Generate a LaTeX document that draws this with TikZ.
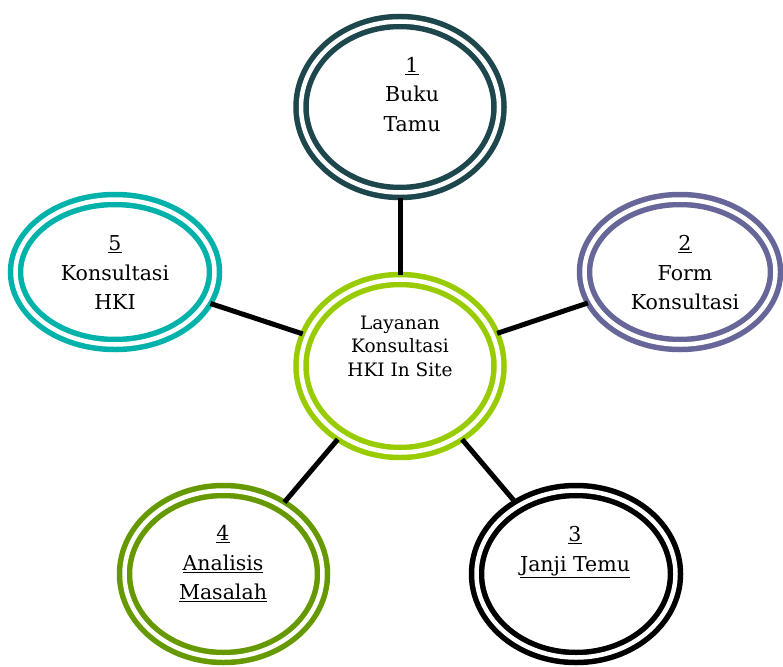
\documentclass[tikz,border=0pt]{standalone}
\usepackage{fontspec}
\setmainfont{DejaVu Serif}
\usetikzlibrary{shapes.geometric}
\definecolor{ringteal}{RGB}{29,71,76}
\definecolor{ringlime}{RGB}{153,204,0}
\definecolor{ringcyan}{RGB}{0,178,170}
\definecolor{ringpurple}{RGB}{102,102,153}
\definecolor{ringolive}{RGB}{102,153,0}
\tikzset{
  ringnode/.style = {ellipse, inner sep=0pt, outer sep=5pt, line width=5.5pt, double=white, double distance=4.5pt},
  rng_a/.style = {ringnode, draw=ringteal},
  rng_b/.style = {ringnode, draw=ringlime},
  rng_c/.style = {ringnode, draw=ringcyan},
  rng_d/.style = {ringnode, draw=ringpurple},
  rng_e/.style = {ringnode, draw=ringolive},
  rng_f/.style = {ringnode, draw=black},
  txt_big/.style = {align=center, inner sep=0pt, font=\fontsize{20.5}{29.5}\selectfont},
  txt_mid/.style = {align=center, inner sep=0pt, font=\fontsize{18.5}{23.5}\selectfont},
  link/.style = {line width=5pt, black},
}
\newcommand{\nr}[1]{\underline{#1}}

\begin{document}
\begin{tikzpicture}[x=1pt, y=-1pt]
  \useasboundingbox (0,0) rectangle (783,666);
  % rings
  \node [rng_a, minimum width=198, minimum height=171] (e1) at (400,107) {};
  \node [rng_b, minimum width=198, minimum height=173] (e0) at (400,366) {};
  \node [rng_c, minimum width=199, minimum height=145] (e5) at (115,272) {};
  \node [rng_d, minimum width=191, minimum height=145] (e2) at (680,272) {};
  \node [rng_e, minimum width=198, minimum height=167] (e4) at (223.5,574) {};
  \node [rng_f, minimum width=199, minimum height=167] (e3) at (576,574) {};
  % texts
  \node [txt_big] (t1) at (412,94.5) {\nr{1}\\Buku\\Tamu};
  \node [txt_mid] (t0) at (400,346) {Layanan\\Konsultasi\\HKI In Site};
  \node [txt_big] (t5) at (115,273) {\nr{5}\\Konsultasi\\HKI};
  \node [txt_big] (t2) at (685,273) {\nr{2}\\Form\\Konsultasi};
  \node [txt_big] (t4) at (223,564) {\nr{4}\\\nr{Analisis}\\\nr{Masalah}};
  \node [txt_big] (t3) at (575,552) {\nr{3}\\\nr{Janji Temu}};
  % links
  \draw [link] (e1) -- (e0);
  \draw [link] (e5) -- (e0);
  \draw [link] (e2) -- (e0);
  \draw [link] (e4) -- (e0);
  \draw [link] (e3) -- (e0);
\end{tikzpicture}
\end{document}
